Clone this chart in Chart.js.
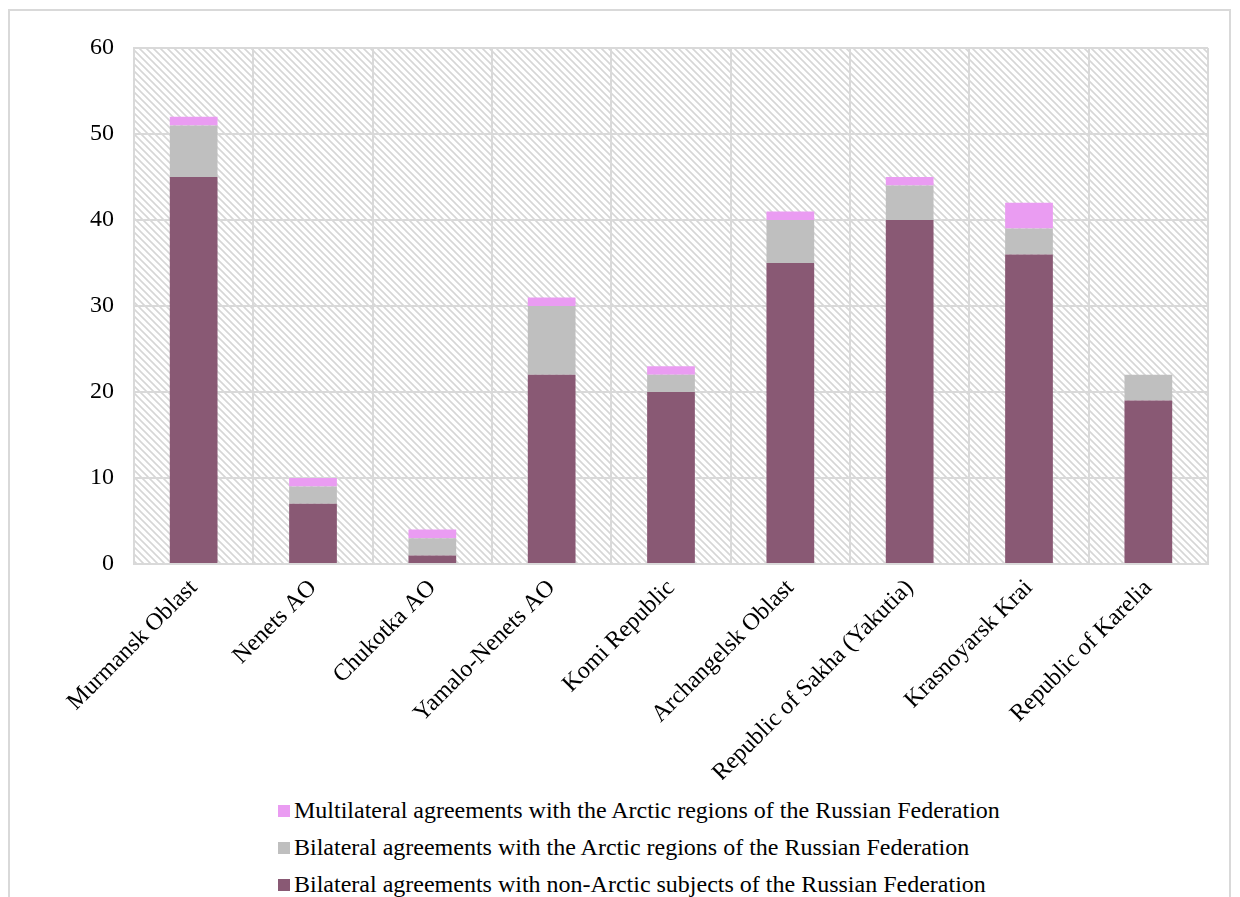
<!DOCTYPE html>
<html>
<head>
<meta charset="utf-8">
<script src="https://cdn.jsdelivr.net/npm/chart.js@4/dist/chart.umd.min.js"></script>
<style>
  body { margin: 0; background: #fff; width: 1240px; height: 897px; overflow: hidden; position: relative; }
  #frame { position: absolute; left: 8px; top: 9px; width: 1223px; height: 920px; border: 2px solid #d9d9d9; box-sizing: border-box; }
  #wrap { position: absolute; left: 0; top: 0; width: 1240px; height: 780px; }
  #legend { position: absolute; left: 278px; top: 792px; font-family: "Liberation Serif", "Times New Roman", serif; font-size: 24px; color: #000; }
  .item { height: 37px; display: flex; align-items: center; }
  .box { width: 12px; height: 12px; margin-right: 4px; flex: none; }
</style>
</head>
<body>
<div id="frame"></div>
<div id="wrap"><canvas id="chart"></canvas></div>
<div id="legend"></div>
<script>
const regions = [
  "Murmansk Oblast", "Nenets AO", "Chukotka AO", "Yamalo-Nenets AO", "Komi Republic",
  "Archangelsk Oblast", "Republic of Sakha (Yakutia)", "Krasnoyarsk Krai", "Republic of Karelia"
];
const nonArcticBilateral = [45, 7, 1, 22, 20, 35, 40, 36, 19];
const arcticBilateral = [6, 2, 2, 8, 2, 5, 4, 3, 3];
const arcticMultilateral = [1, 1, 1, 1, 1, 1, 1, 3, 0];
const yTicks = [0, 10, 20, 30, 40, 50, 60];

const FONT = "'Liberation Serif', 'Times New Roman', serif";

function makeHatch() {
  const c = document.createElement("canvas");
  c.width = 7; c.height = 7;
  const g = c.getContext("2d");
  g.fillStyle = "#fff";
  g.fillRect(0, 0, 7, 7);
  g.strokeStyle = "#d6d6d6";
  g.lineWidth = 1.6;
  g.beginPath();
  g.moveTo(-1, -1); g.lineTo(8, 8);
  g.moveTo(-8, -1); g.lineTo(1, 8);
  g.moveTo(6, -1); g.lineTo(15, 8);
  g.stroke();
  return c;
}

const hatchBackground = {
  id: "hatchBackground",
  beforeDraw(chart) {
    const { ctx, chartArea } = chart;
    ctx.save();
    ctx.fillStyle = ctx.createPattern(makeHatch(), "repeat");
    ctx.fillRect(chartArea.left, chartArea.top, chartArea.right - chartArea.left, chartArea.bottom - chartArea.top);
    ctx.restore();
  }
};

const datasets = [
  { label: "Bilateral agreements with non-Arctic subjects of the Russian Federation", data: nonArcticBilateral, backgroundColor: "#895974" },
  { label: "Bilateral agreements with the Arctic regions of the Russian Federation", data: arcticBilateral, backgroundColor: "#bfbfbf" },
  { label: "Multilateral agreements with the Arctic regions of the Russian Federation", data: arcticMultilateral, backgroundColor: "#ea9cf2" }
];

new Chart(document.getElementById("chart"), {
  type: "bar",
  data: {
    labels: regions,
    datasets: datasets.map(d => ({ ...d, barPercentage: 0.8, categoryPercentage: 0.5, borderWidth: 0 }))
  },
  options: {
    responsive: true,
    maintainAspectRatio: false,
    animation: false,
    layout: { padding: { left: 0, top: 48, right: 32, bottom: 0 } },
    plugins: { legend: { display: false }, tooltip: { enabled: false } },
    scales: {
      x: {
        stacked: true,
        grid: { color: "#d9d9d9", lineWidth: 2, drawTicks: false, offset: true },
        border: { color: "#d9d9d9", width: 2 },
        ticks: {
          color: "#000", font: { family: FONT, size: 24 },
          maxRotation: 45, minRotation: 45, padding: 10, autoSkip: false
        },
        afterFit(s) { s.height = 216; }
      },
      y: {
        stacked: true,
        min: 0, max: 60,
        afterBuildTicks(s) { s.ticks = yTicks.map(v => ({ value: v })); },
        grid: { color: "#d9d9d9", lineWidth: 2, drawTicks: false },
        border: { color: "#d9d9d9", width: 2 },
        ticks: { color: "#000", font: { family: FONT, size: 24 }, padding: 20 },
        afterFit(s) { s.width = 134; }
      }
    }
  },
  plugins: [hatchBackground]
});

const legend = document.getElementById("legend");
datasets.slice().reverse().forEach(d => {
  const item = document.createElement("div");
  item.className = "item";
  const box = document.createElement("span");
  box.className = "box";
  box.style.background = d.backgroundColor;
  const text = document.createElement("span");
  text.textContent = d.label;
  item.appendChild(box);
  item.appendChild(text);
  legend.appendChild(item);
});
</script>
</body>
</html>
